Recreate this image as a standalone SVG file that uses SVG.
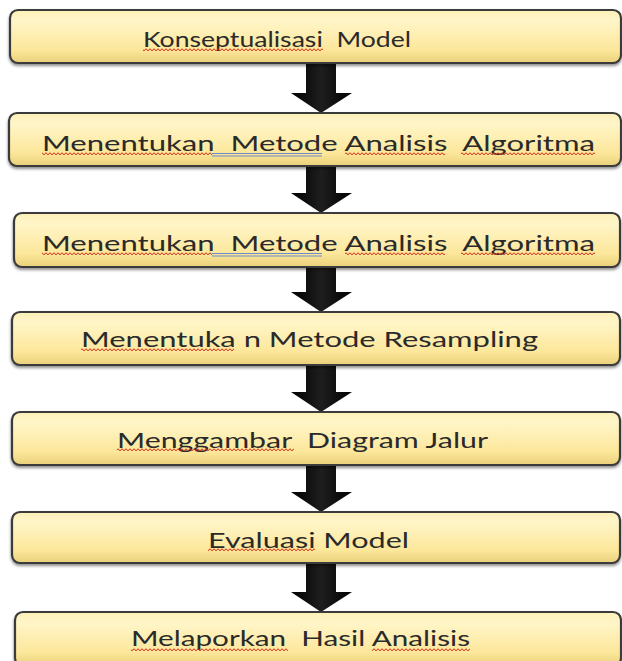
<svg xmlns="http://www.w3.org/2000/svg" width="622" height="661" viewBox="0 0 622 661">
<defs>
<linearGradient id="boxFill" x1="0" y1="0" x2="0" y2="1">
<stop offset="0" stop-color="#fdf0b8"/>
<stop offset="0.2" stop-color="#fff5c8"/>
<stop offset="0.75" stop-color="#fce79a"/>
<stop offset="1" stop-color="#e9d07a"/>
</linearGradient>
<linearGradient id="arrowFill" x1="0" y1="0" x2="1" y2="0">
<stop offset="0" stop-color="#000"/>
<stop offset="0.5" stop-color="#1e1e1e"/>
<stop offset="1" stop-color="#000"/>
</linearGradient>
<filter id="shadow" x="-5%" y="-20%" width="110%" height="150%">
<feGaussianBlur in="SourceAlpha" stdDeviation="1.5"/>
<feOffset dx="0" dy="2" result="b"/>
<feComponentTransfer><feFuncA type="linear" slope="0.45"/></feComponentTransfer>
<feMerge><feMergeNode/><feMergeNode in="SourceGraphic"/></feMerge>
</filter>
<pattern id="wave" width="4" height="4" patternUnits="userSpaceOnUse">
<path d="M0,3 L1,1.5 L2,1 L3,1.5 L4,3" fill="none" stroke="#d8301c" stroke-width="1"/>
</pattern>
</defs>
<style>
.box{fill:url(#boxFill);stroke:#3a3a3a;stroke-width:2.2;filter:url(#shadow)}
.lbl{font-family:"Lato","Open Sans","Liberation Sans",sans-serif;font-size:21px;fill:#2a2a2a}
.arrow{fill:url(#arrowFill)}
.wv{fill:url(#wave)}
.blue{stroke:#6a8ccc;stroke-width:1.2}
</style>

<g id="connectors">
<path class="arrow" d="M306,62 H336 V93 H352 L321,113 L291,93 H306 Z"/>
<path class="arrow" d="M306,165 H336 V193 H352 L321,213 L291,193 H306 Z"/>
<path class="arrow" d="M306,266 H336 V292 H352 L321,312 L291,292 H306 Z"/>
<path class="arrow" d="M306,364 H336 V392 H352 L321,412 L291,392 H306 Z"/>
<path class="arrow" d="M306,464 H336 V492 H352 L321,512 L291,492 H306 Z"/>
<path class="arrow" d="M306,562 H336 V592 H352 L321,612 L291,592 H306 Z"/>
</g>

<g id="node1">
<rect class="box" x="10" y="10" width="611" height="53" rx="8"/>
<text class="lbl" x="143" y="47" textLength="268" lengthAdjust="spacingAndGlyphs" xml:space="preserve">Konseptualisasi  Model</text>
<rect class="wv" x="143" y="48" width="180" height="4"/>
</g>

<g id="node2">
<rect class="box" x="9" y="113" width="612" height="53" rx="8"/>
<text class="lbl" x="42" y="151" textLength="553" lengthAdjust="spacingAndGlyphs" xml:space="preserve">Menentukan  Metode Analisis  Algoritma</text>
<rect class="wv" x="42" y="152" width="170" height="4"/>
<rect class="wv" x="345" y="152" width="100" height="4"/>
<rect class="wv" x="461" y="152" width="134" height="4"/>
<line class="blue" x1="212" y1="153.5" x2="322" y2="153.5"/>
<line class="blue" x1="212" y1="156" x2="322" y2="156"/>
</g>

<g id="node3">
<rect class="box" x="14" y="213" width="606" height="54" rx="8"/>
<text class="lbl" x="42" y="251" textLength="553" lengthAdjust="spacingAndGlyphs" xml:space="preserve">Menentukan  Metode Analisis  Algoritma</text>
<rect class="wv" x="42" y="252" width="170" height="4"/>
<rect class="wv" x="345" y="252" width="100" height="4"/>
<rect class="wv" x="461" y="252" width="134" height="4"/>
<line class="blue" x1="212" y1="253.5" x2="322" y2="253.5"/>
<line class="blue" x1="212" y1="256" x2="322" y2="256"/>
</g>

<g id="node4">
<rect class="box" x="12" y="312" width="608" height="53" rx="8"/>
<text class="lbl" x="81" y="347" textLength="457" lengthAdjust="spacingAndGlyphs" xml:space="preserve">Menentuka n Metode Resampling</text>
<rect class="wv" x="81" y="348" width="153" height="4"/>
</g>

<g id="node5">
<rect class="box" x="12" y="412" width="608" height="53" rx="8"/>
<text class="lbl" x="117" y="448" textLength="371" lengthAdjust="spacingAndGlyphs" xml:space="preserve">Menggambar  Diagram Jalur</text>
<rect class="wv" x="117" y="448" width="177" height="4"/>
</g>

<g id="node6">
<rect class="box" x="12" y="512" width="608" height="51" rx="8"/>
<text class="lbl" x="208" y="548" textLength="201" lengthAdjust="spacingAndGlyphs" xml:space="preserve">Evaluasi Model</text>
<rect class="wv" x="208" y="548" width="107" height="4"/>
</g>

<g id="node7">
<rect class="box" x="15" y="612" width="606" height="54" rx="8"/>
<text class="lbl" x="131" y="646" textLength="339" lengthAdjust="spacingAndGlyphs" xml:space="preserve">Melaporkan  Hasil Analisis</text>
<rect class="wv" x="131" y="648" width="157" height="4"/>
<rect class="wv" x="372" y="648" width="98" height="4"/>
</g>
</svg>
